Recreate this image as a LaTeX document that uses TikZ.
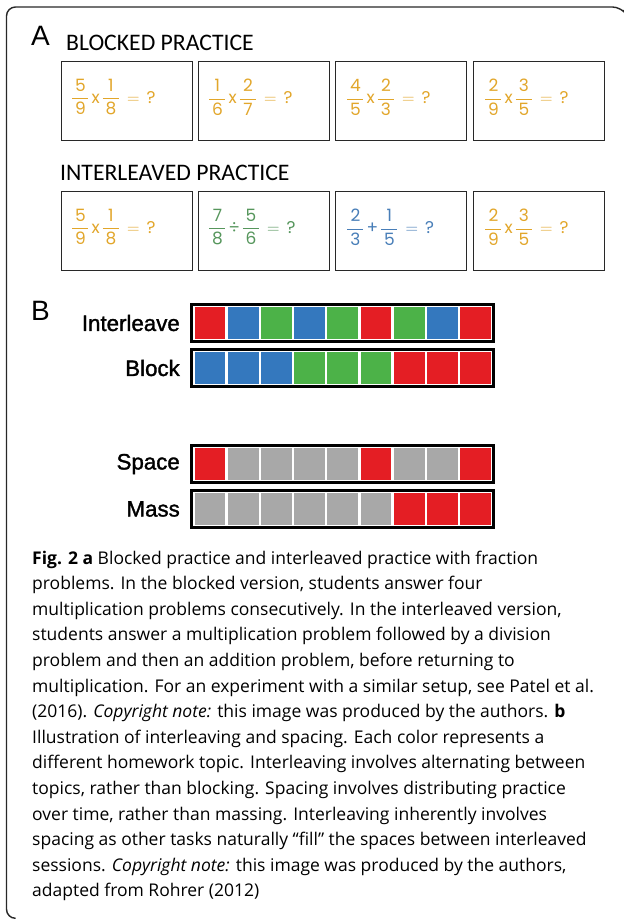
\documentclass[tikz,border=0pt]{standalone}
\usepackage{fontspec}
\usepackage{amsmath}
\setmainfont{Open Sans}
\newfontfamily\capfont{Open Sans}
\newfontfamily\headfont{Carlito}
\newfontfamily\letterfont{Liberation Sans}
\newfontfamily\rowfont[FakeBold=1.4]{Liberation Sans}
\newfontfamily\handfont{Poppins}

\definecolor{cred}{RGB}{228,30,36}
\definecolor{cblue}{RGB}{52,120,190}
\definecolor{cgreen}{RGB}{76,178,72}
\definecolor{cgrey}{RGB}{168,168,168}
\definecolor{gold}{RGB}{226,166,42}
\definecolor{sage}{RGB}{86,150,92}
\definecolor{steel}{RGB}{72,126,184}
\definecolor{framec}{RGB}{40,40,40}

% a hand-lettered fraction: numerator, denominator (optional bar width)
\newcommand{\fr}[3][16pt]{\genfrac{}{}{0.8pt}{0}{\makebox[#1]{#2}}{\makebox[#1]{#3}}}
% binary sign between two fractions, then "= ?"
\newcommand{\eqline}[5]{$\fr{#1}{#2}\hspace{2pt}\text{#5}\hspace{2pt}\fr{#3}{#4}\hspace{7pt}{=}\hspace{7pt}\text{?}$}

\tikzset{
  probbox/.style={draw=framec, line width=1.3pt, minimum width=131pt, minimum height=79pt, inner sep=0pt, anchor=north west},
  eqn/.style={font=\handfont\fontsize{17}{20}\selectfont, inner sep=0pt, anchor=west},
  heading/.style={font=\headfont\fontsize{23.7}{24}\selectfont, inner sep=0pt, anchor=base west},
  panel/.style={font=\letterfont\fontsize{28}{28}\selectfont, inner sep=0pt, anchor=base west},
  rowlabel/.style={font=\rowfont\fontsize{22.3}{22}\selectfont, inner sep=0pt, anchor=east},
  capline/.style={font=\capfont\fontsize{17.5}{18}\selectfont, inner sep=0pt, anchor=base west},
}

\begin{document}
\begin{tikzpicture}[x=1pt,y=-1pt]
\useasboundingbox (0,0) rectangle (624,919);
\fill[white] (0,0) rectangle (624,919);

% outer frame, open on the right
\draw[framec, line width=1.4pt, rounded corners=9pt]
  (14,918.3) -- (6.5,918.3) -- (6.5,7) -- (621.5,7) -- (623.5,10);

% ---------- panel A ----------
\node[panel] (pA) at (31,45) {A};
\node[heading] (hblock) at (66,50) {BLOCKED PRACTICE};
\node[heading] (hinter) at (60,180) {INTERLEAVED PRACTICE};

\node[probbox] (b1) at (61,61) {};
\node[probbox] (b2) at (198,61) {};
\node[probbox] (b3) at (335,61) {};
\node[probbox] (b4) at (473,61) {};
\node[probbox] (i1) at (61,191) {};
\node[probbox] (i2) at (198,191) {};
\node[probbox] (i3) at (335,191) {};
\node[probbox] (i4) at (473,191) {};

\node[eqn, text=gold]  (e1) at ([xshift=10pt,yshift=4pt]b1.west) {\eqline{5}{9}{1}{8}{x}};
\node[eqn, text=gold]  (e2) at ([xshift=10pt,yshift=4pt]b2.west) {\eqline{1}{6}{2}{7}{x}};
\node[eqn, text=gold]  (e3) at ([xshift=11pt,yshift=4pt]b3.west) {\eqline{4}{5}{2}{3}{x}};
\node[eqn, text=gold]  (e4) at ([xshift=11pt,yshift=4pt]b4.west) {\eqline{2}{9}{3}{5}{x}};
\node[eqn, text=gold]  (f1) at ([xshift=10pt,yshift=4pt]i1.west) {\eqline{5}{9}{1}{8}{x}};
\node[eqn, text=sage]  (f2) at ([xshift=10pt,yshift=4pt]i2.west) {\eqline{7}{8}{5}{6}{÷}};
\node[eqn, text=steel] (f3) at ([xshift=11pt,yshift=4pt]i3.west) {\eqline{2}{3}{1}{5}{+}};
\node[eqn, text=gold]  (f4) at ([xshift=11pt,yshift=4pt]i4.west) {\eqline{2}{9}{3}{5}{x}};

% ---------- panel B ----------
\node[panel] (pB) at (31,320) {B};

\foreach \lab/\yy/\cols in {
    Interleave/303/{cred,cblue,cgreen,cblue,cgreen,cred,cgreen,cblue,cred},
    Block/348/{cblue,cblue,cblue,cgreen,cgreen,cgreen,cred,cred,cred},
    Space/444/{cred,cgrey,cgrey,cgrey,cgrey,cred,cgrey,cgrey,cred},
    Mass/489/{cgrey,cgrey,cgrey,cgrey,cgrey,cgrey,cred,cred,cred}}{
  \draw[line width=3pt] (191.5,\yy+1.5) rectangle (493.5,\yy+38.5);
  \foreach \c [count=\i] in \cols
    \fill[\c] (194.5+\i*33.2-33.2,\yy+4) rectangle ++(30.8,31.5);
  \node[rowlabel] (row-\lab) at (180,\yy+20) {\lab};
}

% ---------- caption ----------
\node[capline] (c1)  at (32,564.0) {\textbf{Fig. 2 a} Blocked practice and interleaved practice with fraction};
\node[capline] (c2)  at (32,589.6) {problems. In the blocked version, students answer four};
\node[capline] (c3)  at (32,615.2) {multiplication problems consecutively. In the interleaved version,};
\node[capline] (c4)  at (32,640.8) {students answer a multiplication problem followed by a division};
\node[capline] (c5)  at (32,666.4) {problem and then an addition problem, before returning to};
\node[capline] (c6)  at (32,692.0) {multiplication. For an experiment with a similar setup, see Patel et al.};
\node[capline] (c7)  at (32,717.6) {(2016). \textit{Copyright note:} this image was produced by the authors. \textbf{b}};
\node[capline] (c8)  at (32,743.2) {Illustration of interleaving and spacing. Each color represents a};
\node[capline] (c9)  at (32,768.8) {different homework topic. Interleaving involves alternating between};
\node[capline] (c10) at (32,794.4) {topics, rather than blocking. Spacing involves distributing practice};
\node[capline] (c11) at (32,820.0) {over time, rather than massing. Interleaving inherently involves};
\node[capline] (c12) at (32,845.6) {spacing as other tasks naturally “fill” the spaces between interleaved};
\node[capline] (c13) at (32,871.2) {sessions. \textit{Copyright note:} this image was produced by the authors,};
\node[capline] (c14) at (32,896.8) {adapted from Rohrer (2012)};
\end{tikzpicture}
\end{document}
